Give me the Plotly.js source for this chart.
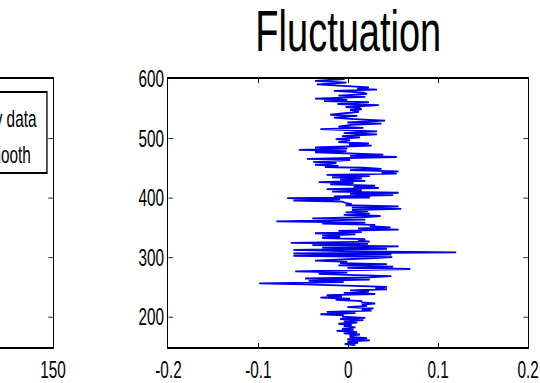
<!DOCTYPE html>
<html><head><meta charset="utf-8">
<script src="https://cdn.plot.ly/plotly-3.0.1.min.js"></script>
<style>
html,body{margin:0;padding:0;width:540px;height:383px;overflow:hidden;background:#fff;}
#wrap{position:absolute;left:-400px;top:0;width:1440px;height:383px;transform:scaleX(0.6667);transform-origin:0 0;}
</style></head><body><div id="wrap"></div>
<script>
// Right panel: fluctuation vs depth
const depth = [
 600,597,594,591,588,586,584,582,580,577,
 575,572,570,567,565,563,561,558,556,553,
 551,549,548,545,540,538,535,533,530,527,
 525,523,520,518,516,514,512,509,507,504,
 502,499,497,494,492,490,488,485,483,481,
 479,477,475,473,471,469,466,464,461,459,
 457,456,454,452,451,449,447,445,443,441,
 439,437,435,433,431,429,427,425,423,421,
 419,417,415,413,411,409,407,405,403,401,
 400,398,396,394,392,390,388,386,384,382,
 380,378,376,374,372,370,368,366,364,361,
 359,357,355,353,351,349,347,345,343,341,
 339,337,335,333,331,329,327,325,323,321,
 319,317,315,313,311,309,307,305,303,301,
 299,297,295,293,291,289,287,285,283,281,
 279,277,275,273,271,269,267,265,263,261,
 259,257,255,253,251,249,247,245,243,241,
 239,237,235,233,231,229,227,225,223,221,
 219,217,215,213,211,209,207,205,203,201,
 199,197,195,193,191,189,187,185,183,181,
 179,177,175,173,171,169,167,165,163,161,
 159,157,155,153
];
const fluctuation = [
 -0.004,-0.037,-0.002,-0.035,-0.001,0.023,0.010,0.032,-0.016,0.017,
 0.021,-0.011,0.019,-0.037,-0.001,-0.027,0.023,-0.012,0.034,-0.003,
 0.013,0.015,0.002,0.012,-0.020,0.010,-0.016,0.002,0.041,-0.001,
 0.037,0.003,-0.011,0.017,-0.031,-0.005,0.032,-0.005,0.032,-0.007,
 0.013,-0.014,0.002,-0.011,0.023,0.001,0.026,-0.037,-0.001,-0.055,
 -0.002,-0.037,0.010,0.039,0.002,0.054,-0.046,0.002,-0.039,-0.013,
 -0.024,-0.037,-0.011,-0.026,0.017,0.037,0.002,0.056,0.037,0.054,
 -0.024,0.024,-0.018,0.015,-0.009,0.019,-0.033,0.006,-0.020,0.030,
 0.006,0.034,-0.024,0.015,-0.018,0.056,0.002,0.050,-0.016,0.024,
 -0.068,-0.009,-0.061,-0.007,-0.003,0.004,-0.003,0.056,0.004,0.059,
 0.004,0.022,-0.003,0.024,-0.005,0.036,0.019,-0.040,0.019,-0.080,
 0.019,-0.029,0.030,0.024,0.047,0.011,0.056,-0.011,0.015,-0.037,
 0.008,-0.029,-0.009,-0.029,0.019,0.011,0.024,-0.064,0.022,-0.040,
 0.056,-0.029,0.043,-0.061,-0.009,0.120,-0.061,0.048,-0.061,0.049,
 0.024,-0.003,-0.037,-0.001,-0.009,0.043,-0.011,0.050,-0.001,0.069,
 -0.001,-0.059,-0.001,-0.033,-0.001,0.048,0.024,-0.048,0.024,-0.044,
 -0.005,-0.099,-0.048,-0.011,0.043,0.030,0.043,0.002,0.023,-0.005,
 0.030,-0.024,-0.007,-0.031,0.002,-0.014,0.015,0.015,0.030,0.015,
 0.021,-0.001,0.028,0.015,0.026,-0.024,0.008,-0.031,-0.005,-0.007,
 0.019,-0.009,0.017,-0.005,0.010,-0.011,0.004,-0.005,0.008,-0.007,
 0.006,-0.013,0.010,-0.005,0.013,0.002,0.002,0.021,-0.001,0.024,
 -0.001,0.011,-0.004,0.008
];
const rightXTicks = [-0.2,-0.1,0,0.1,0.2];
const rightXLabels = ['-0.2','-0.1','0','0.1','0.2'];
const depthTicks = [200,300,400,500,600];
const depthLabels = ['200','300','400','500','600'];
// left panel: only its right edge is inside the crop
const leftXTicks = [50,100,150];
const leftXLabels = ['','','150'];
const legendLabels = ['Noisy data','Smooth'];
const rightTitle = 'Fluctuation';

const FONT = 'Arial, "Liberation Sans", sans-serif';

const traces = [
  { // left panel (its curves lie outside the visible crop)
    type:'scatter', mode:'lines', x:[], y:[], xaxis:'x', yaxis:'y',
    showlegend:false, hoverinfo:'skip'
  },
  {
    type:'scatter', mode:'lines', x:fluctuation, y:depth,
    xaxis:'x2', yaxis:'y2', line:{color:'rgb(0,0,235)', width:1.8},
    showlegend:false, hoverinfo:'skip'
  }
];

const axBase = {
  showgrid:false, zeroline:false, showline:true, linecolor:'#000',
  mirror:'ticks', ticks:'inside', tickcolor:'#000',
  tickfont:{family:FONT, size:23, color:'#000'}
};

const layout = {
  width:1440, height:383,
  margin:{l:140, r:48, t:79, b:36},
  paper_bgcolor:'#fff', plot_bgcolor:'#fff',
  showlegend:false,
  xaxis: Object.assign({}, axBase, {domain:[0,0.4308], range:[0,150], tickvals:leftXTicks, ticktext:leftXLabels, ticklen:4, tickwidth:1.5, linewidth:2, anchor:'y', ticklabelstandoff:1}),
  yaxis: Object.assign({}, axBase, {domain:[0,1], range:[150,600], tickvals:depthTicks, showticklabels:false, ticklen:7, tickwidth:1, linewidth:2, anchor:'x'}),
  xaxis2: Object.assign({}, axBase, {domain:[0.5692,1], range:[-0.2,0.2], tickvals:rightXTicks, ticktext:rightXLabels, ticklen:4, tickwidth:1.5, linewidth:2, anchor:'y2', ticklabelstandoff:1}),
  yaxis2: Object.assign({}, axBase, {domain:[0,1], range:[150,600], tickvals:depthTicks, ticktext:depthLabels, ticklen:7, tickwidth:1, linewidth:2, anchor:'x2'}),
  shapes:[{
    type:'rect', xref:'x domain', yref:'y domain', x0:0.55, x1:0.9833, y0:0.649, y1:0.9515,
    line:{color:'#000', width:2}, fillcolor:'#fff', layer:'above'
  }],
  annotations:[
    {text:rightTitle, xref:'x2 domain', yref:'paper', x:0.5, y:1, xanchor:'center', yanchor:'bottom', yshift:14,
     showarrow:false, font:{family:FONT, size:57, color:'#000'}},
    {text:legendLabels[0], xref:'x domain', yref:'y domain', x:0.9583, y:0.849, xanchor:'right', yanchor:'middle',
     showarrow:false, font:{family:FONT, size:23, color:'#000'}},
    {text:legendLabels[1], xref:'x domain', yref:'y domain', x:0.9416, y:0.7164, xanchor:'right', yanchor:'middle',
     showarrow:false, font:{family:FONT, size:23, color:'#000'}}
  ]
};

Plotly.newPlot('wrap', traces, layout, {staticPlot:true, displayModeBar:false});
</script></body></html>
